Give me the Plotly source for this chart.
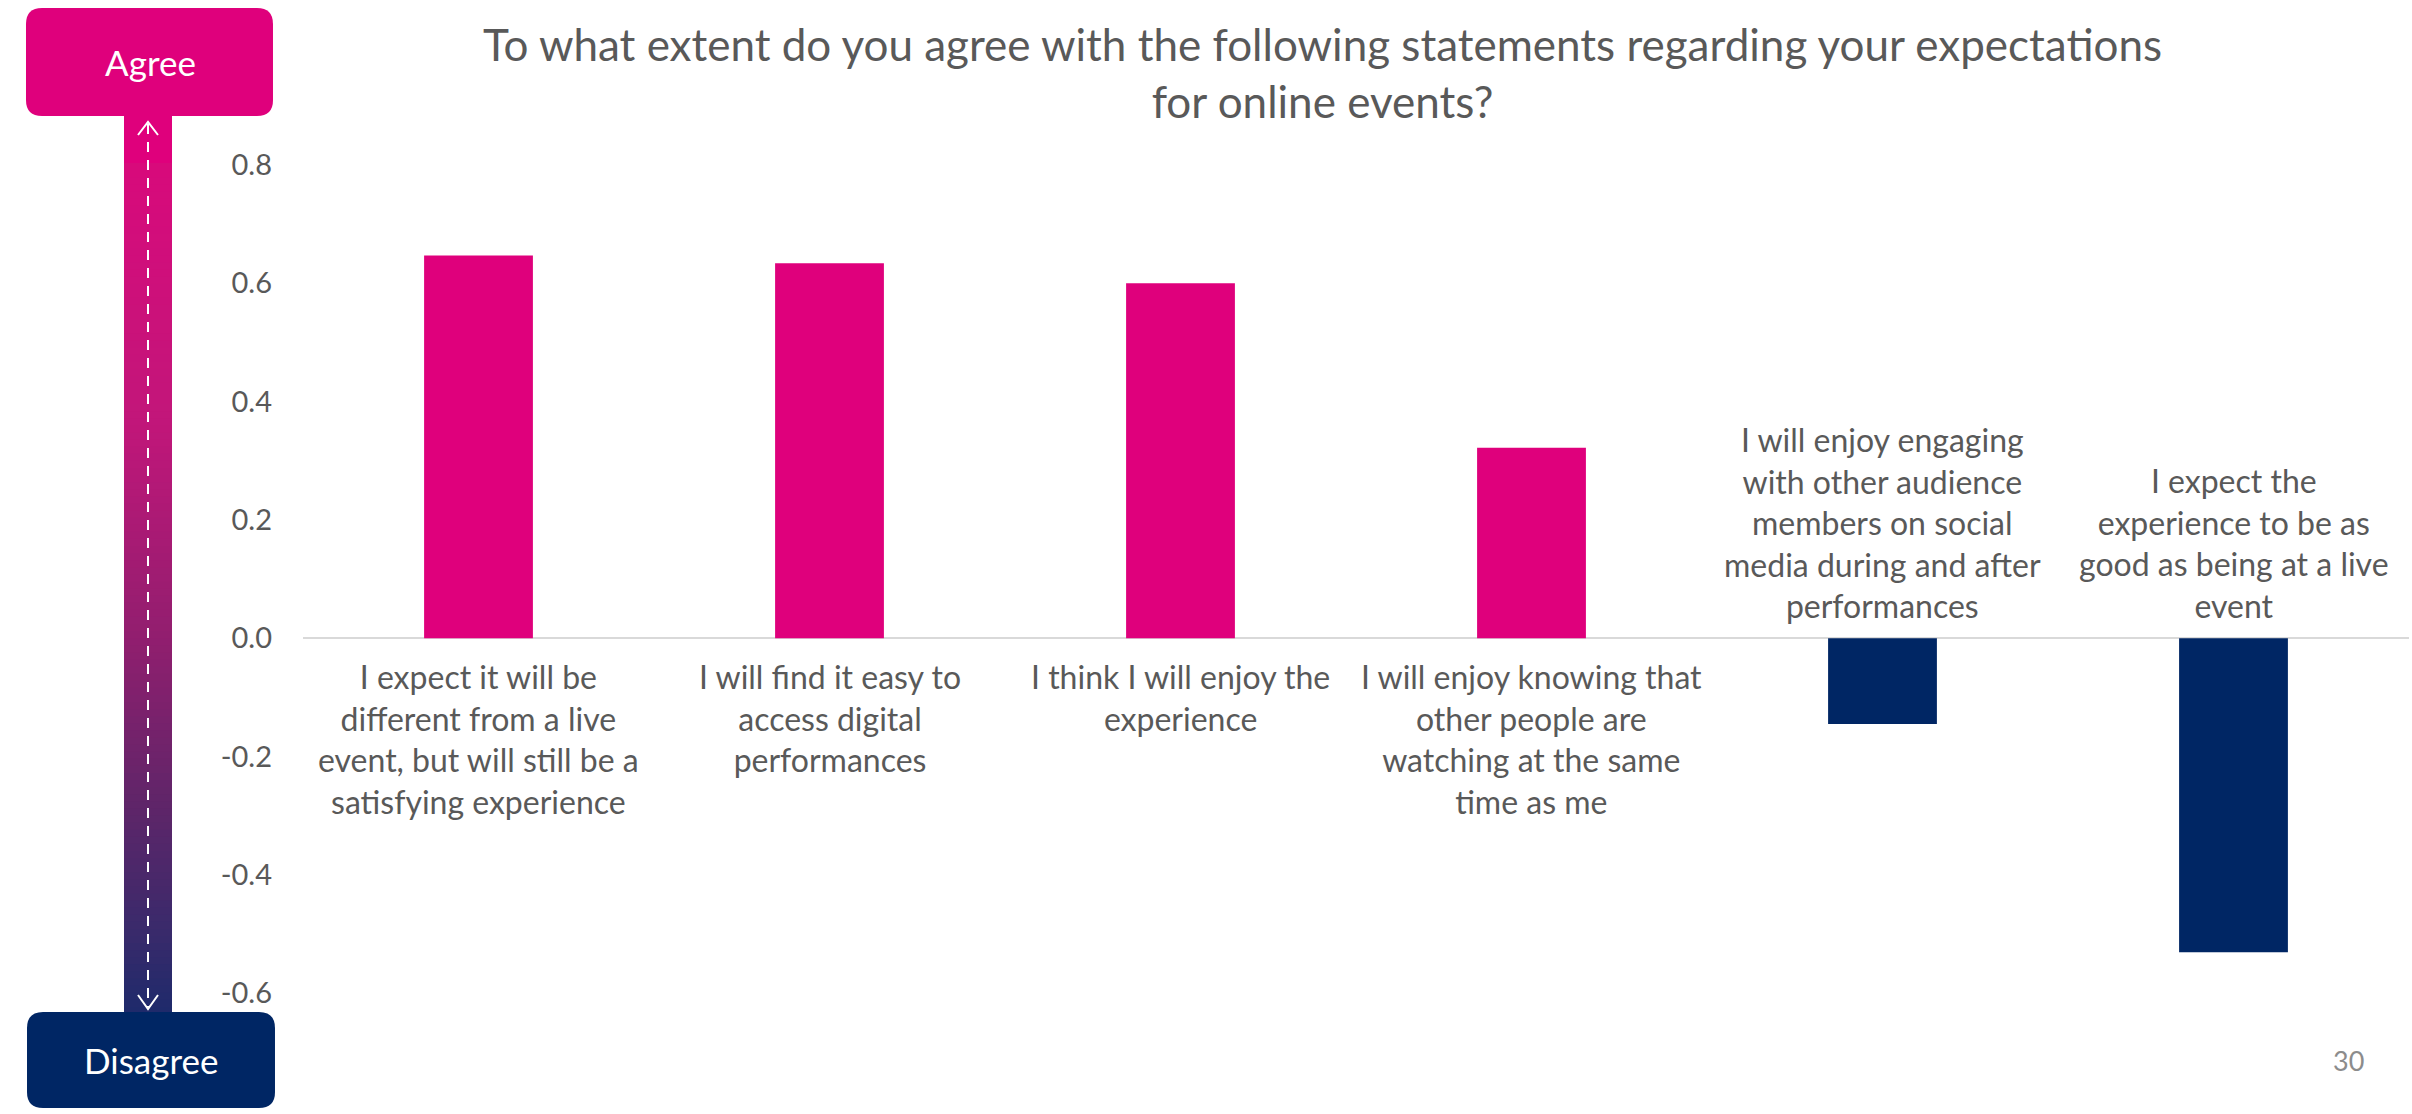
import plotly.graph_objects as go

# ---- data ----
title_text = "To what extent do you agree with the following statements regarding your expectations<br>for online events?"
categories = [
    "I expect it will be<br>different from a live<br>event, but will still be a<br>satisfying experience",
    "I will find it easy to<br>access digital<br>performances",
    "I think I will enjoy the<br>experience",
    "I will enjoy knowing that<br>other people are<br>watching at the same<br>time as me",
    "I will enjoy engaging<br>with other audience<br>members on social<br>media during and after<br>performances",
    "I expect the<br>experience to be as<br>good as being at a live<br>event",
]
values = [0.647, 0.634, 0.600, 0.322, -0.145, -0.531]
y_tickvals = [-0.6, -0.4, -0.2, 0.0, 0.2, 0.4, 0.6, 0.8]
y_ticktext = ["-0.6", "-0.4", "-0.2", "0.0", "0.2", "0.4", "0.6", "0.8"]
agree_label = "Agree"
disagree_label = "Disagree"
page_number = "30"

# ---- style ----
MAGENTA = "#DF007C"
NAVY = "#002664"
GRAY = "#595959"
FONT = "Lato"
W, H = 2412, 1114
L, R, T, B = 303, 2409, 165, 993


def px(x):
    return (x - L) / (R - L)


def py(y):
    return (B - y) / (B - T)


def rounded_rect(x0, y0, x1, y1, r):
    pts = [
        ("M", [(x0 + r, y0)]),
        ("L", [(x1 - r, y0)]),
        ("Q", [(x1, y0), (x1, y0 + r)]),
        ("L", [(x1, y1 - r)]),
        ("Q", [(x1, y1), (x1 - r, y1)]),
        ("L", [(x0 + r, y1)]),
        ("Q", [(x0, y1), (x0, y1 - r)]),
        ("L", [(x0, y0 + r)]),
        ("Q", [(x0, y0), (x0 + r, y0)]),
    ]
    s = ""
    for cmd, ps in pts:
        s += cmd + " " + " ".join(f"{px(a):.5f},{py(b):.5f}" for a, b in ps) + " "
    return s + "Z"


def hex2rgb(h):
    h = h.lstrip("#")
    return tuple(int(h[i:i + 2], 16) for i in (0, 2, 4))


def grad_color(t, stops):
    for (t0, c0), (t1, c1) in zip(stops[:-1], stops[1:]):
        if t0 <= t <= t1:
            f = (t - t0) / (t1 - t0) if t1 > t0 else 0
            a, b = hex2rgb(c0), hex2rgb(c1)
            return tuple(round(a[k] + (b[k] - a[k]) * f) for k in range(3))
    return hex2rgb(stops[-1][1])


bar_colors = [MAGENTA if v >= 0 else NAVY for v in values]

fig = go.Figure(
    go.Bar(
        x=categories,
        y=values,
        marker=dict(color=bar_colors, line=dict(width=0)),
        hoverinfo="skip",
    )
)

shapes = []
# gradient vertical bar
gx0, gx1 = 124, 172
shapes.append(dict(type="rect", xref="paper", yref="paper",
                   x0=px(gx0), x1=px(gx1), y0=py(110), y1=py(164),
                   fillcolor=MAGENTA, line=dict(width=0), layer="below"))
gy0, gy1 = 163, 1014
stops = [(0.0, "#D80A7B"), (0.3, "#C2167A"), (0.55, "#931E6F"),
         (0.75, "#602569"), (0.9, "#3A2A6B"), (1.0, "#1E2A6B")]
n = 120
for i in range(n):
    t0 = i / n
    t1 = (i + 1) / n
    c = grad_color((i + 0.5) / n, stops)
    ya = gy0 + (gy1 - gy0) * t0
    yb = gy0 + (gy1 - gy0) * t1 + 0.8
    shapes.append(dict(type="rect", xref="paper", yref="paper",
                       x0=px(gx0), x1=px(gx1), y0=py(ya), y1=py(yb),
                       fillcolor=f"rgb{c}", line=dict(width=0), layer="below"))
# dashed white line
shapes.append(dict(type="line", xref="paper", yref="paper",
                   x0=px(148), x1=px(148), y0=py(124), y1=py(1007),
                   line=dict(color="white", width=2, dash="10px,8px")))
# arrowheads
shapes.append(dict(type="path", xref="paper", yref="paper",
                   path=f"M {px(138)},{py(135)} L {px(148)},{py(122)} L {px(158)},{py(135)}",
                   line=dict(color="white", width=2)))
shapes.append(dict(type="path", xref="paper", yref="paper",
                   path=f"M {px(138)},{py(995)} L {px(148)},{py(1009)} L {px(158)},{py(995)}",
                   line=dict(color="white", width=2)))
# boxes
shapes.append(dict(type="path", xref="paper", yref="paper",
                   path=rounded_rect(26, 8, 273, 116, 16),
                   fillcolor=MAGENTA, line=dict(width=0)))
shapes.append(dict(type="path", xref="paper", yref="paper",
                   path=rounded_rect(27, 1012, 275, 1108, 16),
                   fillcolor=NAVY, line=dict(width=0)))

annotations = []
for cat, v in zip(categories, values):
    annotations.append(dict(
        x=cat, y=0, xref="x", yref="y", text=cat, showarrow=False,
        xanchor="center",
        yanchor="top" if v >= 0 else "bottom",
        yshift=-17 if v >= 0 else 11,
        font=dict(family=FONT, size=32, color=GRAY), align="center"))
annotations.append(dict(x=px(1322), y=py(16), xref="paper", yref="paper", text=title_text,
                        showarrow=False, xanchor="center", yanchor="top", align="center",
                        font=dict(family=FONT, size=44, color=GRAY)))
annotations.append(dict(x=px(150), y=py(62), xref="paper", yref="paper", text=agree_label,
                        showarrow=False, xanchor="center", yanchor="middle",
                        font=dict(family=FONT, size=35, color="white")))
annotations.append(dict(x=px(151), y=py(1060), xref="paper", yref="paper", text=disagree_label,
                        showarrow=False, xanchor="center", yanchor="middle",
                        font=dict(family=FONT, size=35, color="white")))
annotations.append(dict(x=px(2348), y=py(1060), xref="paper", yref="paper", text=page_number,
                        showarrow=False, xanchor="center", yanchor="middle",
                        font=dict(family=FONT, size=27, color="#8C8C8C")))

fig.update_layout(
    width=W, height=H,
    margin=dict(l=L, r=W - R, t=T, b=H - B, pad=0),
    paper_bgcolor="white", plot_bgcolor="white",
    showlegend=False,
    bargap=0.69,
    xaxis=dict(showticklabels=False, showgrid=False, zeroline=False, showline=False,
               ticks=""),
    yaxis=dict(range=[-0.6, 0.8], tickvals=y_tickvals, ticktext=y_ticktext,
               showgrid=False, zeroline=True, zerolinecolor="#D9D9D9", zerolinewidth=2,
               showline=False, ticks="", ticklabelstandoff=30,
               tickfont=dict(family=FONT, size=29, color=GRAY)),
    shapes=shapes,
    annotations=annotations,
)

fig.write_html("out.html", config={"displayModeBar": False},
               post_script="document.body.style.margin='0';document.body.style.padding='0';")
